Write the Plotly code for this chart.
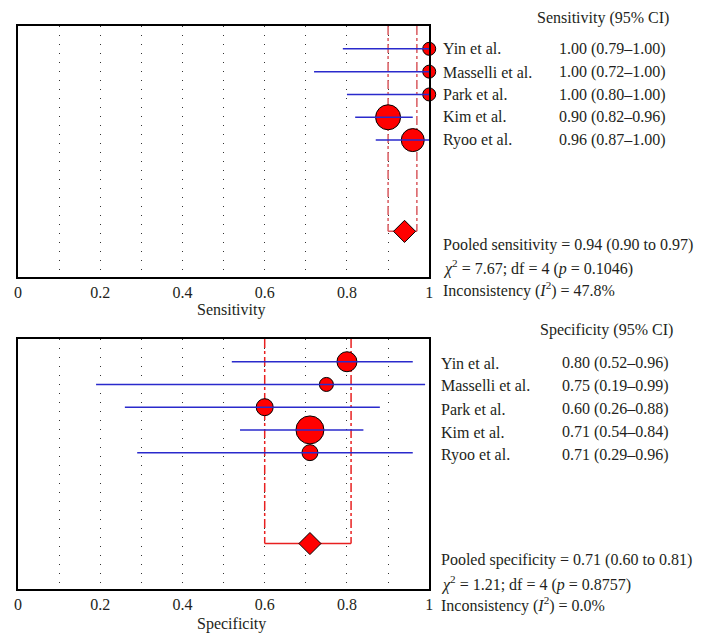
import plotly.graph_objects as go

# ---------------- data ----------------
studies = ["Yin et al.", "Masselli et al.", "Park et al.", "Kim et al.", "Ryoo et al."]

sens = [1.00, 1.00, 1.00, 0.90, 0.96]
sens_lo = [0.79, 0.72, 0.80, 0.82, 0.87]
sens_hi = [1.00, 1.00, 1.00, 0.96, 1.00]
sens_weight = [13, 13, 13, 25, 23]          # marker diameter (study weight)
sens_pooled = 0.94
sens_pooled_lo = 0.90
sens_pooled_hi = 0.97
sens_stats = ["Pooled sensitivity = 0.94 (0.90 to 0.97)",
              "<i>χ</i><sup>2</sup> = 7.67; df = 4 (<i>p</i> = 0.1046)",
              "Inconsistency (<i>I</i><sup>2</sup>) = 47.8%"]

spec = [0.80, 0.75, 0.60, 0.71, 0.71]
spec_lo = [0.52, 0.19, 0.26, 0.54, 0.29]
spec_hi = [0.96, 0.99, 0.88, 0.84, 0.96]
spec_weight = [20, 14, 17, 28, 16]
spec_pooled = 0.71
spec_pooled_lo = 0.60
spec_pooled_hi = 0.81
spec_stats = ["Pooled specificity = 0.71 (0.60 to 0.81)",
              "<i>χ</i><sup>2</sup> = 1.21; df = 4 (<i>p</i> = 0.8757)",
              "Inconsistency (<i>I</i><sup>2</sup>) = 0.0%"]

tick_vals = [0, 0.2, 0.4, 0.6, 0.8, 1]
tick_text = ["0", "0.2", "0.4", "0.6", "0.8", "1"]

rows = [1, 2, 3, 4, 5]
pooled_row = 9

# ---------------- figure ----------------
W, H = 705, 642
OFF = 8  # page body margin
FONT = "Liberation Serif"
TXT = "#231f20"
FS = 16

def px(x):
    return (x - OFF) / W

def py(y):
    return 1 - (y - OFF) / H

fig = go.Figure()


def add_panel(xa, ya, est, lo, hi, wts, p, plo, phi, refcol):
    for v in (plo, phi):
        fig.add_trace(go.Scatter(x=[v, v], y=[0, pooled_row], mode="lines",
                                 line=dict(color=refcol, width=1.5, dash="dashdot"),
                                 xaxis=xa, yaxis=ya, showlegend=False, hoverinfo="skip"))
    fig.add_trace(go.Scatter(x=[plo, phi], y=[pooled_row, pooled_row], mode="lines",
                             line=dict(color=refcol, width=1.5),
                             xaxis=xa, yaxis=ya, showlegend=False, hoverinfo="skip"))
    fig.add_trace(go.Scatter(x=est, y=rows, mode="markers",
                             marker=dict(size=wts, color="#ff0000", opacity=1,
                                         line=dict(color="black", width=1)),
                             xaxis=xa, yaxis=ya, showlegend=False, cliponaxis=False))
    for r, l, h in zip(rows, lo, hi):
        fig.add_trace(go.Scatter(x=[l, h], y=[r, r], mode="lines",
                                 line=dict(color="#2a2acc", width=1.5),
                                 xaxis=xa, yaxis=ya, showlegend=False, hoverinfo="skip"))
    fig.add_trace(go.Scatter(x=[p], y=[pooled_row], mode="markers",
                             marker=dict(symbol="diamond", size=17, color="#ff0000", opacity=1,
                                         line=dict(color="black", width=1)),
                             xaxis=xa, yaxis=ya, showlegend=False))


add_panel("x", "y", sens, sens_lo, sens_hi, sens_weight,
          sens_pooled, sens_pooled_lo, sens_pooled_hi, "#d9595e")
add_panel("x2", "y2", spec, spec_lo, spec_hi, spec_weight,
          spec_pooled, spec_pooled_lo, spec_pooled_hi, "#e82020")

xcommon = dict(range=[0, 1], tickmode="array", tickvals=tick_vals, ticktext=tick_text,
               showline=True, linecolor="black", linewidth=1.5, mirror=True,
               showgrid=True, gridcolor="#333333", gridwidth=1, griddash="1px,8px",
               minor=dict(dtick=0.1, tick0=0, showgrid=True, gridcolor="#333333",
                          gridwidth=1, griddash="1px,8px"),
               zeroline=False, ticks="", tickfont=dict(family=FONT, size=FS, color=TXT),
               fixedrange=True)
ycommon = dict(range=[11, 0], showticklabels=False, showgrid=False, zeroline=False,
               showline=True, linecolor="black", linewidth=1.5, mirror=True, ticks="")

top_dom = [py(277), py(26)]
bot_dom = [py(589), py(339)]
xdom = [px(14), px(430)]

fig.update_layout(
    width=W, height=H,
    margin=dict(l=0, r=0, t=0, b=0),
    paper_bgcolor="white", plot_bgcolor="white",
    xaxis=dict(domain=xdom, anchor="y", **xcommon),
    yaxis=dict(domain=top_dom, anchor="x", **ycommon),
    xaxis2=dict(domain=xdom, anchor="y2", **xcommon),
    yaxis2=dict(domain=bot_dom, anchor="x2", **ycommon),
    font=dict(family=FONT, size=FS, color=TXT),
)

ann = []

def text(x, y, s, xanchor="left"):
    ann.append(dict(x=px(x), y=py(y), xref="paper", yref="paper", text=s,
                    showarrow=False, xanchor=xanchor, yanchor="middle",
                    font=dict(family=FONT, size=FS, color=TXT)))

text(537, 18, "Sensitivity (95% CI)")
top_rows_y = [49, 72, 95, 117, 140]
for yy, name, e, l, h in zip(top_rows_y, studies, sens, sens_lo, sens_hi):
    text(442, yy, name)
    text(559, yy, f"{e:.2f} ({l:.2f}–{h:.2f})")
for yy, s in zip([245, 267, 289], sens_stats):
    text(442, yy, s)
text(230, 310, "Sensitivity", "center")

text(540, 330, "Specificity (95% CI)")
bot_rows_y = [363, 386, 409, 432, 455]
for yy, name, e, l, h in zip(bot_rows_y, studies, spec, spec_lo, spec_hi):
    text(440, yy, name)
    text(562, yy, f"{e:.2f} ({l:.2f}–{h:.2f})")
for yy, s in zip([560, 583, 604], spec_stats):
    text(440, yy, s)
text(230, 624, "Specificity", "center")

fig.update_layout(annotations=ann)

fig.write_html("out.html")
